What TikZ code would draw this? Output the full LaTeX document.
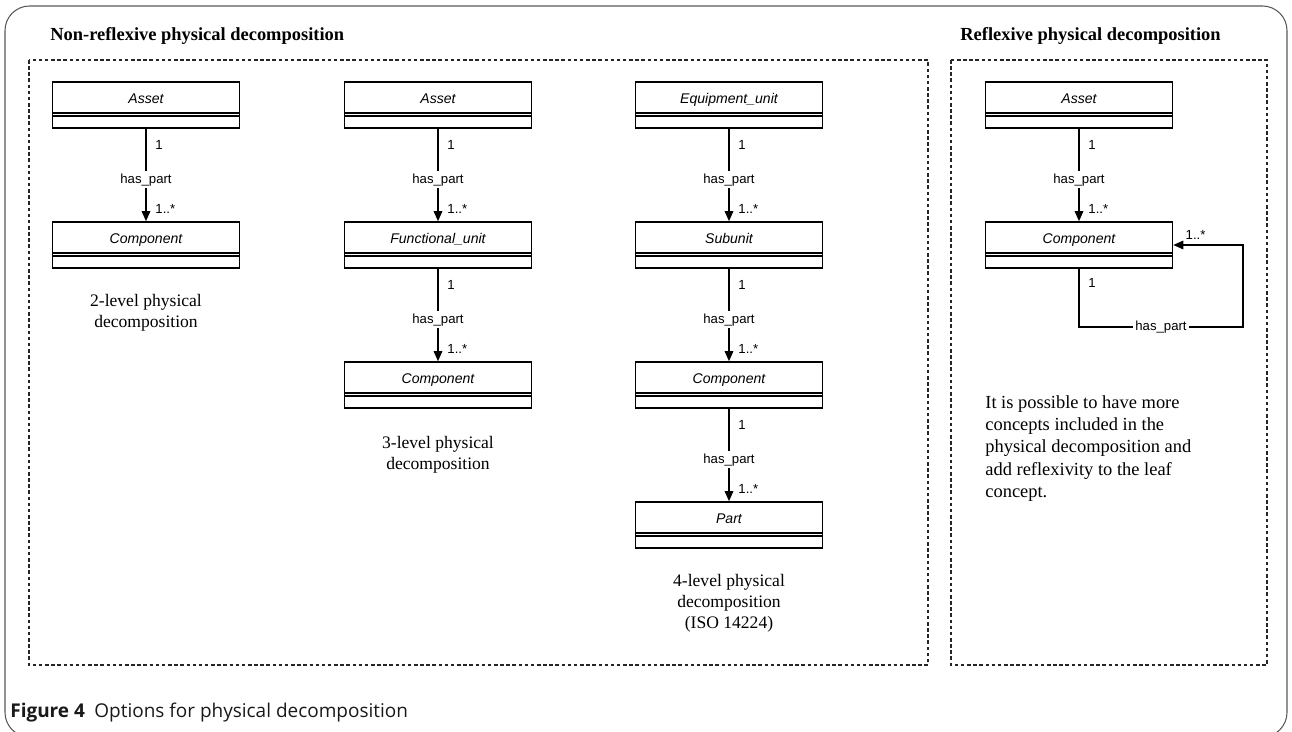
\documentclass[tikz,border=0pt]{standalone}
\usepackage{fontspec}
\setmainfont{Liberation Serif}
\setsansfont{Liberation Sans}
\newfontfamily\capfont{Open Sans}
\usetikzlibrary{arrows.meta,positioning}

\begin{document}
\begin{tikzpicture}[x=0.02cm, y=-0.02cm,
  cls/.style={draw, line width=0.9pt, minimum width=3.74cm, minimum height=0.92cm,
              inner sep=0pt, text height=0.2cm, text depth=0.24cm,
              font=\fontsize{8}{9.6}\sffamily\itshape,
              path picture={
                \draw[line width=0.9pt]
                  ([yshift=-0.62cm]path picture bounding box.north west) --
                  ([yshift=-0.62cm]path picture bounding box.north east);
                \draw[line width=0.9pt]
                  ([yshift=-0.68cm]path picture bounding box.north west) --
                  ([yshift=-0.68cm]path picture bounding box.north east);}},
  assoc/.style={-{Triangle[length=2mm,width=1.7mm]}, line width=0.8pt},
  mult/.style={font=\fontsize{7.5}{9}\sffamily, inner sep=1pt, anchor=west,
               xshift=0.14cm},
  multtop/.style={font=\fontsize{7.5}{9}\sffamily, inner sep=1pt, above,
                  yshift=0.06cm},
  role/.style={font=\fontsize{7.5}{9}\sffamily, fill=white, inner sep=1.5pt},
  heading/.style={font=\fontsize{10.5}{12.6}\selectfont\bfseries,
                  anchor=base west, inner sep=0pt},
  levels/.style={font=\fontsize{10}{12}\selectfont, align=center},
  note/.style={font=\fontsize{10.5}{12.75}\selectfont, align=left,
               inner sep=0pt, anchor=north west},
  group/.style={draw=black!85, line width=0.8pt, dash pattern=on 2pt off 1.5pt},
]
\useasboundingbox (0,0) rectangle (1292,732);

% outer frame, open at the bottom
\draw[black!65, line width=0.6pt, rounded corners=14]
  (22,737) -- (5,737) -- (5,6) -- (1287,6) -- (1287,737) -- (1270,737);

% ================= non-reflexive decompositions =================
\node[heading] (titleL) at (50,41) {Non-reflexive physical decomposition};
\draw[group] (29,60) rectangle (928,665);

% 2 levels
\node[cls] (asset1) at (146,105) {Asset};
\node[cls] (comp1)  at (146,245) {Component};
\node[levels] (lvl2) at (146,313) {2-level physical\\decomposition};

% 3 levels
\node[cls] (asset2) at (438,105) {Asset};
\node[cls] (func2)  at (438,245) {Functional\_unit};
\node[cls] (comp2)  at (438,385) {Component};
\node[levels] (lvl3) at (438,455) {3-level physical\\decomposition};

% 4 levels
\node[cls] (equip3) at (729,105) {Equipment\_unit};
\node[cls] (sub3)   at (729,245) {Subunit};
\node[cls] (comp3)  at (729,385) {Component};
\node[cls] (part3)  at (729,525) {Part};
\node[levels] (lvl4) at (729,603) {4-level physical\\decomposition\\(ISO 14224)};

% ================= reflexive decomposition =================
\node[heading] (titleR) at (960,41) {Reflexive physical decomposition};
\draw[group] (951,60) rectangle (1267,665);

\node[cls] (asset4) at (1079,105) {Asset};
\node[cls] (comp4)  at (1079,245) {Component};

\node[note] (hint) at (985,395)
  {It is possible to have more\\concepts included in the\\physical decomposition and\\add reflexivity to the leaf\\concept.};

% has_part associations
\foreach \a/\b in {asset1/comp1, asset2/func2, func2/comp2, equip3/sub3,
                   sub3/comp3, comp3/part3, asset4/comp4}
  \draw[assoc] (\a) -- node[pos=.18, mult] {1}
    node[pos=.55, role] {has\_part}
    node[pos=.87, mult] {1..*} (\b);

% self association on the leaf
\coordinate (loopR) at (1243,327);
\draw[assoc] (comp4.south) |- node[pos=.12, mult] {1}
  node[pos=.75, role] {has\_part} (loopR)
  |- node[pos=.84, multtop] {1..*} (comp4.east);

% figure caption
\node[anchor=base west, inner sep=0pt, font=\capfont\fontsize{10.8}{13}\selectfont,
      black!90] (figcap) at (10,718)
  {\textbf{Figure 4}\hspace{0.5em}Options for physical decomposition};

\end{tikzpicture}
\end{document}
